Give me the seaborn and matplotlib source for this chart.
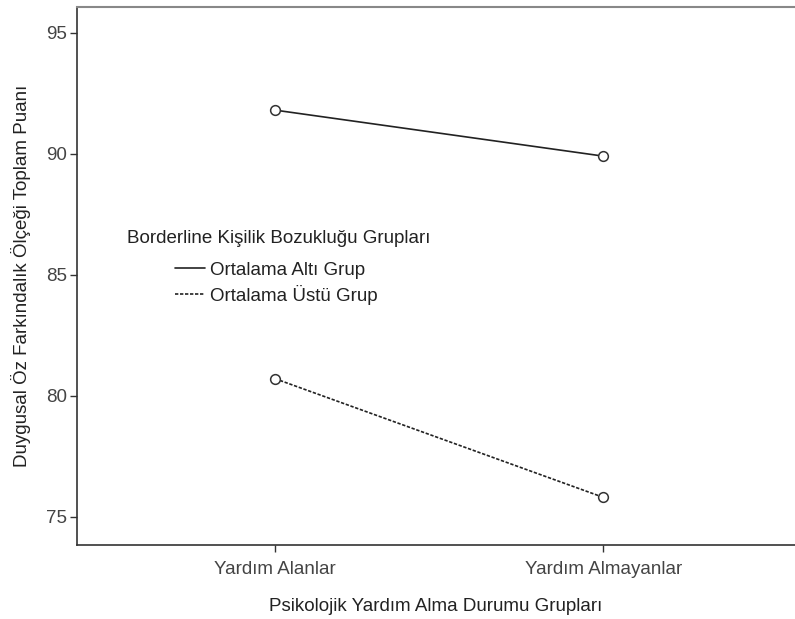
import pandas as pd
import matplotlib.pyplot as plt
import seaborn as sns

# values
groups_x = ['Yardım Alanlar', 'Yardım Almayanlar']
bpd_groups = ['Ortalama Altı Grup', 'Ortalama Üstü Grup']
alt_means = [91.8, 89.9]
ustu_means = [80.7, 75.8]
y_ticks = [75, 80, 85, 90, 95]

df = pd.DataFrame({
    'Psikolojik Yardım Alma Durumu Grupları': groups_x * 2,
    'Borderline Kişilik Bozukluğu Grupları': [bpd_groups[0]] * 2 + [bpd_groups[1]] * 2,
    'Puan': alt_means + ustu_means,
})

sns.set_style('white')
plt.rcParams['font.family'] = ['Liberation Sans', 'DejaVu Sans']
fs = 13.5

fig = plt.figure(figsize=(7.95, 6.19), dpi=100)
ax = fig.add_axes([0.097, 0.12, 0.903, 0.869])

sns.lineplot(data=df, x='Psikolojik Yardım Alma Durumu Grupları', y='Puan',
             hue='Borderline Kişilik Bozukluğu Grupları',
             style='Borderline Kişilik Bozukluğu Grupları',
             palette=['#222222', '#222222'],
             dashes={bpd_groups[0]: '', bpd_groups[1]: (2, 1)},
             markers={bpd_groups[0]: 'o', bpd_groups[1]: 'o'},
             markersize=7, markerfacecolor='white', markeredgecolor='#333333',
             markeredgewidth=1.1, linewidth=1.2, ax=ax)

ax.set_xlim(-0.604, 1.585)
ax.set_ylim(73.84, 96.07)
ax.set_yticks(y_ticks)
ax.set_xlabel('Psikolojik Yardım Alma Durumu Grupları', fontsize=fs, color='#222222', labelpad=14)
ax.set_ylabel('Duygusal Öz Farkındalık Ölçeği Toplam Puanı', fontsize=fs, color='#222222', labelpad=11)
ax.tick_params(axis='both', direction='out', length=5, width=1, color='#333333',
               labelsize=fs, labelcolor='#444444', bottom=True, left=True, pad=2)
ax.tick_params(axis='x', pad=7)

for side in ['left', 'bottom']:
    ax.spines[side].set_color('#333333')
    ax.spines[side].set_linewidth(1.2)
ax.spines['top'].set_color('#888888')
ax.spines['top'].set_linewidth(1.5)
ax.spines['right'].set_visible(False)

# legend title drawn on its own, entries indented below it
ax.text(0.0696, 0.5688, 'Borderline Kişilik Bozukluğu Grupları', transform=ax.transAxes,
        fontsize=fs, color='#222222', ha='left', va='center')
handles, labels = ax.get_legend_handles_labels()
for h in handles:
    h.set_marker('')
leg = ax.legend(handles, labels, frameon=False, loc='upper left',
                bbox_to_anchor=(0.1365, 0.526), borderpad=0, borderaxespad=0,
                fontsize=fs, handlelength=1.6, handletextpad=0.27, labelspacing=0.31)
for t in leg.get_texts():
    t.set_color('#222222')

fig.savefig('out.png', dpi=100)
